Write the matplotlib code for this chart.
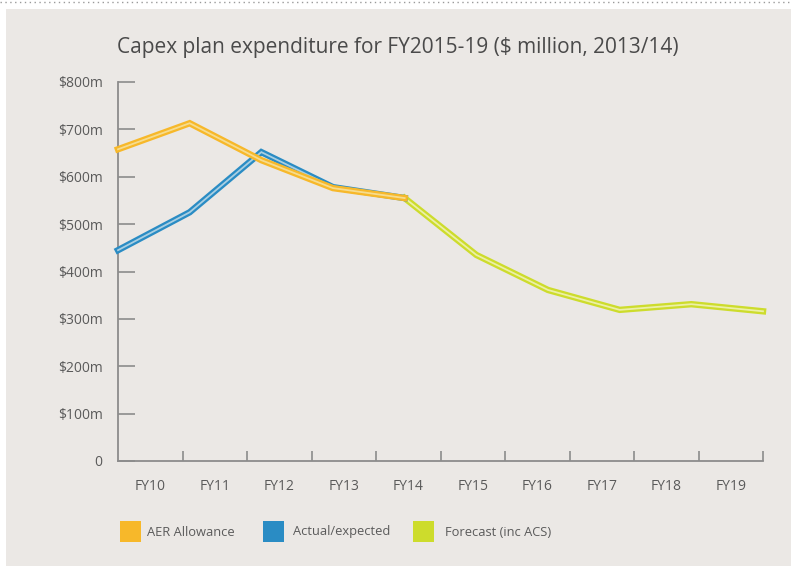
import matplotlib
matplotlib.use("Agg")
import matplotlib.pyplot as plt
import matplotlib.patheffects as pe
from matplotlib.patches import Rectangle
from matplotlib.lines import Line2D

# ---- data ($ million, 2013/14) ----
years = ["FY10", "FY11", "FY12", "FY13", "FY14", "FY15", "FY16", "FY17", "FY18", "FY19"]
aer_allowance = [658, 713, 635, 576, 555]            # FY10-FY14
actual_expected = [445, 525, 652, 578, 555]          # FY10-FY14
forecast = [555, 435, 361, 319, 331, 316]            # FY14-FY19
yticks = [0, 100, 200, 300, 400, 500, 600, 700, 800]
ytick_labels = ["0", "$100m", "$200m", "$300m", "$400m", "$500m", "$600m", "$700m", "$800m"]

title = "Capex plan expenditure for FY2015-19 ($ million, 2013/14)"
legend_labels = ["AER Allowance", "Actual/expected", "Forecast (inc ACS)"]

# ---- style ----
FONT = ["Open Sans", "DejaVu Sans"]
plt.rcParams["font.family"] = FONT
BG = "#ebe8e5"
AXIS = "#8c8c8c"
TEXT = "#5a5a5a"
YELLOW, YELLOW_IN = "#f7b82a", "#f6dc8e"
BLUE, BLUE_IN = "#2a8cc4", "#a9cfe2"
GREEN, GREEN_IN = "#cddc2c", "#ecf0a6"

W, H = 791, 566
fig = plt.figure(figsize=(W / 100, H / 100), dpi=100)
fig.patch.set_facecolor("white")

# grey panel with dotted rule above
fig.add_artist(Rectangle((6 / W, 0), 1 - 6 / W, 1 - 9 / H, transform=fig.transFigure,
                         facecolor=BG, edgecolor="none", zorder=0))
fig.add_artist(Line2D([0, 1], [1 - 1.5 / H, 1 - 1.5 / H], transform=fig.transFigure,
                      color="#9a9a9a", lw=1.0, linestyle=(0, (1, 2.5))))

left, right, top, bottom = 118, 763, 82, 461
ax = fig.add_axes([left / W, 1 - bottom / H, (right - left) / W, (bottom - top) / H])
ax.set_facecolor("none")

# category axis: labels centred in bins, ticks on bin edges
n = len(years)
ax.set_xlim(0, n)
ax.set_ylim(0, 800)
ax.set_xticks(range(1, n + 1))
ax.set_xticklabels([])
ax.set_xticks([i + 0.5 for i in range(n)], minor=True)
ax.set_xticklabels(years, minor=True)
ax.tick_params(axis="x", which="major", direction="in", length=7, width=1.2, color=AXIS)
ax.tick_params(axis="x", which="minor", length=0, pad=13, labelsize=10, labelcolor=TEXT)
ax.set_yticks(yticks)
ax.set_yticklabels(ytick_labels)
ax.tick_params(axis="y", direction="in", length=12, width=1.2, color=AXIS, pad=11,
               labelsize=10, labelcolor=TEXT)
for s in ("top", "right"):
    ax.spines[s].set_visible(False)
for s in ("left", "bottom"):
    ax.spines[s].set_color(AXIS)
    ax.spines[s].set_linewidth(1.3)

# lines run point-to-point across the full axis width
lx = ax.twiny()
lx.set_xlim(0, n - 1)
lx.set_ylim(0, 800)
lx.axis("off")


def double_line(xs, ys, outer, inner, z):
    lx.plot(list(xs), ys, color=inner, lw=1.3, zorder=z, solid_joinstyle="miter",
            path_effects=[pe.Stroke(linewidth=4.6, foreground=outer), pe.Normal()],
            clip_on=False)


double_line(range(4, n), forecast, GREEN, GREEN_IN, 3)
double_line(range(0, 5), actual_expected, BLUE, BLUE_IN, 4)
double_line(range(0, 5), aer_allowance, YELLOW, YELLOW_IN, 5)

fig.text(398 / W, 1 - 47 / H, title, ha="center", va="center", fontsize=15, color="#4a4a4a")

# legend
sw = 21
entries = [(120, YELLOW, 147), (263, BLUE, 293), (413, GREEN, 445)]
for (x0, col, tx), lab in zip(entries, legend_labels):
    fig.add_artist(Rectangle((x0 / W, 1 - (531 + sw / 2) / H), sw / W, sw / H,
                             transform=fig.transFigure, facecolor=col, edgecolor="none"))
    fig.text(tx / W, 1 - 532 / H, lab, ha="left", va="center", fontsize=9.3, color=TEXT)

fig.savefig("out.png", dpi=100, facecolor=fig.get_facecolor())
